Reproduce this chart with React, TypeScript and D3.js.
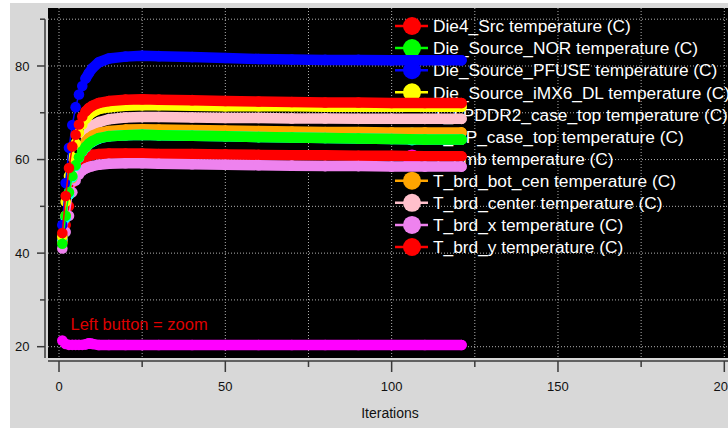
import React from "react";
import * as d3 from "d3";

const W = 728;
const H = 428;

const ITER = [1, 2, 3, 4, 5, 6, 7, 8, 9, 10, 12, 15, 20, 25, 30, 40, 50, 60, 70, 80, 90, 100, 110, 121];

const SERIES_NAMES = [
  "Die4_Src temperature (C)",
  "Die_Source_NOR temperature (C)",
  "Die_Source_PFUSE temperature (C)",
  "Die_Source_iMX6_DL temperature (C)",
  "T_LPDDR2_case_top temperature (C)",
  "T_CP_case_top temperature (C)",
  "T_amb temperature (C)",
  "T_brd_bot_cen temperature (C)",
  "T_brd_center temperature (C)",
  "T_brd_x temperature (C)",
  "T_brd_y temperature (C)",
];

const COLORS = [
  "#ff0000",
  "#00ff00",
  "#0000ff",
  "#ffff00",
  "#000000",
  "#00ffff",
  "#ff00ff",
  "#ffa500",
  "#ffc0cb",
  "#ee82ee",
  "#ff0000",
];

const DIE4_SRC = [44.3, 52.2, 58.2, 62.8, 65.3, 67.5, 69.2, 70.3, 71.0, 71.5, 72.1, 72.5, 72.8, 72.9, 72.8, 72.7, 72.5, 72.4, 72.3, 72.2, 72.2, 72.1, 72.1, 72.1];
const DIE_NOR = [42.0, 48.0, 53.0, 56.5, 58.8, 60.5, 61.8, 62.7, 63.4, 63.9, 64.6, 65.0, 65.2, 65.3, 65.2, 65.1, 65.0, 64.8, 64.7, 64.6, 64.5, 64.4, 64.3, 64.3];
const DIE_PFUSE = [46.0, 55.0, 62.5, 67.4, 71.2, 73.9, 75.7, 77.3, 78.5, 79.5, 80.8, 81.6, 82.0, 82.2, 82.1, 81.9, 81.7, 81.5, 81.4, 81.3, 81.3, 81.2, 81.2, 81.2];
const DIE_IMX6 = [43.5, 51.0, 56.5, 60.5, 63.5, 65.8, 67.5, 68.7, 69.5, 70.1, 70.8, 71.2, 71.5, 71.6, 71.6, 71.5, 71.4, 71.4, 71.4, 71.3, 71.3, 71.3, 71.3, 71.3];
const LPDDR2_TOP = [43.5, 51.5, 57.5, 61.5, 64.5, 66.8, 68.5, 69.6, 70.4, 71.0, 71.6, 72.0, 72.2, 72.3, 72.3, 72.2, 72.1, 72.0, 72.0, 71.9, 71.9, 71.8, 71.8, 71.8];
const CP_TOP = [43.0, 47.5, 52.5, 56.2, 58.6, 60.4, 61.7, 62.6, 63.3, 63.8, 64.5, 65.0, 65.2, 65.3, 65.2, 65.1, 65.0, 64.8, 64.7, 64.6, 64.5, 64.4, 64.3, 64.3];
const T_AMB = [21.3, 20.6, 20.4, 20.4, 20.4, 20.4, 20.4, 20.5, 20.75, 20.6, 20.35, 20.35, 20.35, 20.35, 20.35, 20.35, 20.35, 20.35, 20.35, 20.35, 20.35, 20.35, 20.35, 20.35];
const BRD_BOT_CEN = [42.5, 48.0, 52.5, 56.0, 58.8, 61.0, 62.7, 63.8, 64.6, 65.1, 65.7, 66.1, 66.4, 66.5, 66.4, 66.3, 66.2, 66.1, 66.0, 65.9, 65.9, 65.8, 65.8, 65.8];
const BRD_CENTER = [43.0, 48.0, 53.0, 57.0, 60.0, 62.5, 64.5, 65.8, 66.7, 67.3, 68.0, 68.6, 69.0, 69.1, 69.1, 69.0, 68.9, 68.9, 68.8, 68.8, 68.7, 68.7, 68.7, 68.7];
const BRD_X = [41.0, 44.5, 48.0, 53.0, 55.5, 56.8, 57.6, 58.1, 58.4, 58.6, 58.9, 59.1, 59.2, 59.2, 59.1, 59.0, 58.9, 58.8, 58.7, 58.6, 58.6, 58.5, 58.5, 58.5];
const BRD_Y = [42.5, 46.0, 50.0, 55.0, 57.5, 59.0, 59.8, 60.4, 60.8, 61.0, 61.2, 61.3, 61.3, 61.3, 61.2, 61.2, 61.1, 61.0, 60.9, 60.9, 60.8, 60.8, 60.7, 60.7];

const SERIES_VALUES = [DIE4_SRC, DIE_NOR, DIE_PFUSE, DIE_IMX6, LPDDR2_TOP, CP_TOP, T_AMB, BRD_BOT_CEN, BRD_CENTER, BRD_X, BRD_Y];

const X_TICKS = [0, 50, 100, 150, 200];
const X_MINOR = [25, 75, 125, 175];
const Y_TICKS = [20, 40, 60, 80];
const Y_MINOR = [30, 50, 70, 90];
const X_GRID = [0, 25, 50, 75, 100, 125, 150, 175, 200];
const Y_GRID = [20, 30, 40, 50, 60, 70, 80, 90];

const X_LABEL = "Iterations";
const ZOOM_NOTE = "Left button = zoom";

const FONT = "'Liberation Sans', Arial, Helvetica, sans-serif";

export default function App() {
  const x = d3.scaleLinear().domain([0, 200]).range([59, 724.3]);
  const y = d3.scaleLinear().domain([20, 90]).range([346.7, 19.2]);

  const plotL = 48;
  const plotT = 8;
  const plotB = 358;
  const axisX = 45;
  const axisY = 361;

  const line = d3
    .line<[number, number]>()
    .x((d) => x(d[0]))
    .y((d) => y(d[1]));

  const series = SERIES_NAMES.map((name, i) => ({
    name,
    color: COLORS[i],
    pts: ITER.map((it, j) => [it, SERIES_VALUES[i][j]] as [number, number]),
  }));

  const legendX = 412;
  const legendY0 = 26;
  const legendDy = 22.1;

  return (
    <svg
      width={W}
      height={H}
      style={{ position: "absolute", left: 0, top: 0, display: "block" }}
    >
      <rect x={0} y={0} width={W} height={H} fill="#ffffff" />
      <rect x={10} y={3} width={W - 10} height={H - 3} fill="#d8d8d8" />
      <rect x={plotL} y={plotT} width={W - plotL} height={plotB - plotT} fill="#000000" />

      {/* grid */}
      <g stroke="#b0b0b0" strokeWidth={1} strokeDasharray="1 2">
        {X_GRID.map((v) => (
          <line key={"gx" + v} x1={x(v)} x2={x(v)} y1={plotT} y2={plotB} />
        ))}
        {Y_GRID.map((v) => (
          <line key={"gy" + v} x1={plotL} x2={W} y1={y(v)} y2={y(v)} />
        ))}
      </g>

      {/* legend */}
      <g>
        {series.map((s, i) => {
          const cy = legendY0 + legendDy * i;
          return (
            <g key={"lg" + i}>
              <line x1={legendX - 17} x2={legendX + 16} y1={cy} y2={cy} stroke={s.color} strokeWidth={2.5} />
              <circle cx={legendX} cy={cy} r={9} fill={s.color} />
              <text
                x={433}
                y={cy}
                dy="0.36em"
                fill="#ffffff"
                fontFamily={FONT}
                fontSize={17.3}
              >
                {s.name}
              </text>
            </g>
          );
        })}
      </g>

      {/* data: first series on top */}
      <g>
        {series
          .slice()
          .reverse()
          .map((s, k) => (
            <g key={"s" + k}>
              <path d={line(s.pts) || ""} fill="none" stroke={s.color} strokeWidth={1.5} />
              <path
                d={line(s.pts.filter((p) => p[0] >= 8)) || ""}
                fill="none"
                stroke={s.color}
                strokeWidth={10.5}
                strokeLinejoin="round"
                strokeLinecap="round"
              />
              {s.pts.map((p, j) => (
                <circle key={j} cx={x(p[0])} cy={y(p[1])} r={5.3} fill={s.color} />
              ))}
            </g>
          ))}
      </g>

      <text x={70.5} y={330} fill="#dd0000" fontFamily={FONT} fontSize={16.5}>
        {ZOOM_NOTE}
      </text>

      {/* y axis */}
      <g stroke="#3a3a3a" strokeWidth={1.5}>
        <line x1={axisX} x2={axisX} y1={y(90)} y2={plotB} />
        {Y_TICKS.map((v) => (
          <line key={"yt" + v} x1={axisX - 8} x2={axisX} y1={y(v)} y2={y(v)} />
        ))}
        {Y_MINOR.map((v) => (
          <line key={"ym" + v} x1={axisX - 5} x2={axisX} y1={y(v)} y2={y(v)} />
        ))}
      </g>
      <g fontFamily={FONT} fontSize={13} fill="#111">
        {Y_TICKS.map((v) => (
          <text key={"yl" + v} x={29.5} y={y(v)} dy="0.36em" textAnchor="end">
            {v}
          </text>
        ))}
      </g>

      {/* x axis */}
      <g stroke="#3a3a3a" strokeWidth={1.5}>
        <line x1={plotL} x2={W} y1={axisY} y2={axisY} />
        {X_TICKS.map((v) => (
          <line key={"xt" + v} x1={x(v)} x2={x(v)} y1={axisY} y2={axisY + 11} />
        ))}
        {X_MINOR.map((v) => (
          <line key={"xm" + v} x1={x(v)} x2={x(v)} y1={axisY} y2={axisY + 6} />
        ))}
      </g>
      <g fontFamily={FONT} fontSize={13} fill="#111">
        {X_TICKS.map((v) => (
          <text key={"xl" + v} x={x(v)} y={386} dy="0.36em" textAnchor="middle">
            {v}
          </text>
        ))}
      </g>
      <text x={390} y={413} dy="0.36em" textAnchor="middle" fontFamily={FONT} fontSize={14} fill="#111">
        {X_LABEL}
      </text>
    </svg>
  );
}
